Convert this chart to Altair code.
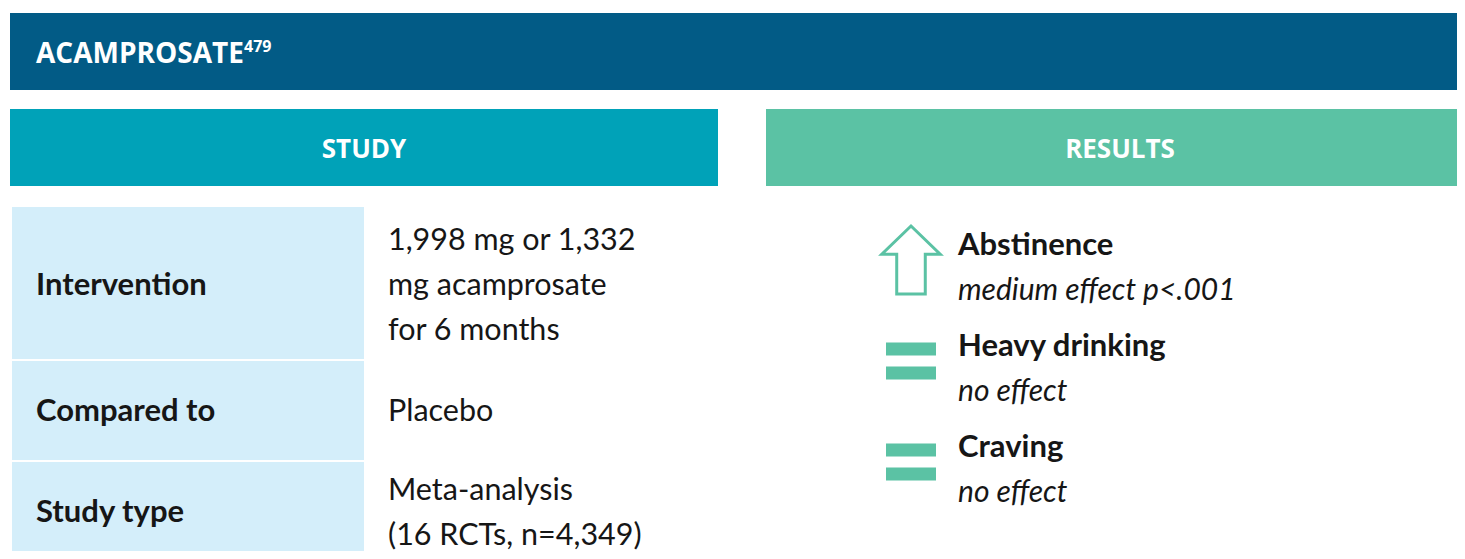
import altair as alt
import pandas as pd

# ---------------- data ----------------
title_text = "ACAMPROSATE"
title_ref = "479"
section_titles = ["STUDY", "RESULTS"]

study_labels = ["Intervention", "Compared to", "Study type"]
study_values = [
    ["1,998 mg or 1,332", "mg acamprosate", "for 6 months"],
    ["Placebo"],
    ["Meta-analysis", "(16 RCTs, n=4,349)"],
]

result_outcomes = ["Abstinence", "Heavy drinking", "Craving"]
result_effects = ["medium effect p<.001", "no effect", "no effect"]
result_directions = ["up", "equal", "equal"]

# ---------------- layout (page pixels) ----------------
W, H = 1449, 543          # chart size; page margin is 8px
X0, Y0 = 8, 8
DARK = "#025b86"
TEAL = "#00a2b8"
GREEN = "#5bc2a4"
CELL = "#d4eefa"
INK = "#161616"
FONT = "Lato"
HFONT = "Open Sans"

row_tops = [207, 361, 462]
row_heights = [152, 99, 110]
row_text_center = [284, 410, 511]
line_h = 45
fs_bold = 31
fs_reg = 30.5
fs_it = 30

xs = alt.Scale(domain=[X0, X0 + W], nice=False, zero=False)
ys = alt.Scale(domain=[Y0, Y0 + H], nice=False, zero=False, reverse=True)


def XY(xf="x", yf="y"):
    return dict(
        x=alt.X(f"{xf}:Q", scale=xs, axis=None),
        y=alt.Y(f"{yf}:Q", scale=ys, axis=None),
    )


# bands / cells
bands = [
    dict(x=10, x2=1470, y=13, y2=90, c=DARK),
    dict(x=10, x2=718, y=109, y2=186, c=TEAL),
    dict(x=766, x2=1470, y=109, y2=186, c=GREEN),
]
for t, h in zip(row_tops, row_heights):
    bands.append(dict(x=12, x2=364, y=t, y2=t + h, c=CELL))
bands_df = pd.DataFrame(bands)

rects = alt.Chart(bands_df).mark_rect(clip=True).encode(
    x2="x2:Q", y2="y2:Q", color=alt.Color("c:N", scale=None), **XY()
)

# header texts
head = alt.Chart(pd.DataFrame([dict(x=36, y=63, t=title_text)])).mark_text(
    font=HFONT, fontWeight="bold", fontSize=28, align="left", baseline="alphabetic", color="white"
).encode(text="t:N", **XY())

sup = alt.Chart(pd.DataFrame([dict(x=244, y=52, t=title_ref)])).mark_text(
    font=HFONT, fontWeight="bold", fontSize=16, align="left", baseline="alphabetic", color="white"
).encode(text="t:N", **XY())

sec = alt.Chart(pd.DataFrame([
    dict(x=364, y=158, t=section_titles[0]),
    dict(x=1120, y=158, t=section_titles[1]),
])).mark_text(
    font=HFONT, fontWeight="bold", fontSize=26, align="center", baseline="alphabetic", color="white"
).encode(text="t:N", **XY())

# study table text
lab_rows, val_rows = [], []
for lab, vals, cy in zip(study_labels, study_values, row_text_center):
    c = cy + 11
    lab_rows.append(dict(x=36, y=c, t=lab))
    n = len(vals)
    for i, v in enumerate(vals):
        val_rows.append(dict(x=388, y=c + (i - (n - 1) / 2) * line_h, t=v))

labels = alt.Chart(pd.DataFrame(lab_rows)).mark_text(
    font=FONT, fontWeight="bold", fontSize=fs_bold, align="left", baseline="alphabetic", color=INK
).encode(text="t:N", **XY())

values = alt.Chart(pd.DataFrame(val_rows)).mark_text(
    font=FONT, fontSize=fs_reg, align="left", baseline="alphabetic", color=INK
).encode(text="t:N", **XY())

# results
res_rows = []
for i, (o, e, d) in enumerate(zip(result_outcomes, result_effects, result_directions)):
    b = 255 + i * 101
    res_rows.append(dict(x=958, y=b, ye=b + line_h, ic=b + 5, ix=911, o=o, e=e, d=d))
res_df = pd.DataFrame(res_rows)

r_title = alt.Chart(res_df).mark_text(
    font=FONT, fontWeight="bold", fontSize=fs_bold, align="left", baseline="alphabetic", color=INK
).encode(text="o:N", **XY())

r_eff = alt.Chart(res_df).mark_text(
    font=FONT, fontStyle="italic", fontSize=fs_it, align="left", baseline="alphabetic", color=INK
).encode(text="e:N", **XY("x", "ye"))

ARROW = "M0,-1L0.86,-0.17L0.42,-0.17L0.42,1L-0.42,1L-0.42,-0.17L-0.86,-0.17Z"
EQUAL = "M-1,-0.74H1V-0.22H-1Z M-1,0.22H1V0.74H-1Z"

up_icon = alt.Chart(res_df).transform_filter(alt.datum.d == "up").mark_point(
    shape=ARROW, size=34 * 34 * 4, filled=False, stroke=GREEN, strokeWidth=3, opacity=1
).encode(**XY("ix", "ic"))

eq_icon = alt.Chart(res_df).transform_filter(alt.datum.d == "equal").mark_point(
    shape=EQUAL, size=25 * 25 * 4, filled=True, fill=GREEN, strokeWidth=0, opacity=1
).encode(**XY("ix", "ic"))

chart = alt.layer(
    rects, head, sup, sec, labels, values, r_title, r_eff, up_icon, eq_icon
).properties(
    width=W, height=H, padding=0, background="white",
    autosize=alt.AutoSizeParams(type="none"),
).configure_view(stroke="transparent", strokeWidth=0)

chart.save("out.html", embed_options={"renderer": "svg", "actions": False})
